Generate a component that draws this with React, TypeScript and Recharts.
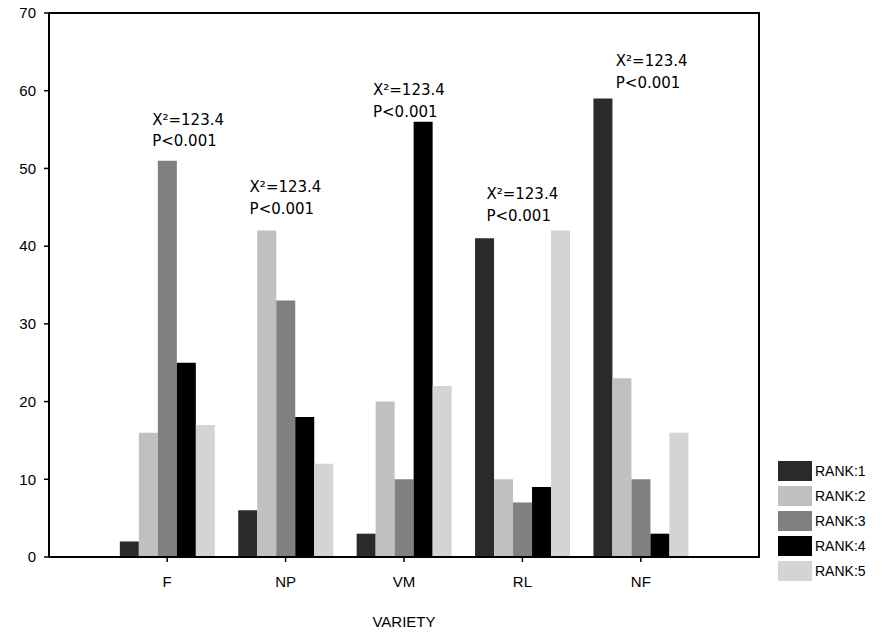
import {
  Bar,
  BarChart,
  CartesianGrid,
  ReferenceDot,
  XAxis,
  YAxis,
} from "recharts";

// Grouped bars: share of each rank per variety, with a chi-square note over each group.

const varieties = ["F", "NP", "VM", "RL", "NF"];
const rank1 = [2, 6, 3, 41, 59];
const rank2 = [16, 42, 20, 10, 23];
const rank3 = [51, 33, 10, 7, 10];
const rank4 = [25, 18, 56, 9, 3];
const rank5 = [17, 12, 22, 42, 16];
const rankNames = ["RANK:1", "RANK:2", "RANK:3", "RANK:4", "RANK:5"];
const yTicks = [0, 10, 20, 30, 40, 50, 60, 70];

// where each group's note sits (data units) and how far left of the group centre it starts
const noteLevel = [56.3, 47.6, 60.1, 46.7, 63.8];
const noteShift = [-15, -36, -31, -36, -25];

const COLORS = ["#2a2a2a", "#c0c0c0", "#808080", "#000000", "#d4d4d4"];
const series = [rank1, rank2, rank3, rank4, rank5];

const data = varieties.map((v, i) => {
  const row: Record<string, string | number> = { variety: v };
  series.forEach((s, k) => {
    row[`r${k + 1}`] = s[i];
  });
  return row;
});

const AXIS_FONT = "Arial, 'Liberation Sans', sans-serif";
const NOTE_FONT = "'DejaVu Sans', sans-serif";
const axisStroke = { stroke: "#000", strokeWidth: 2 };
const X_PAD = 59; // empty half-slot either side of the groups

// chart geometry (plot box = margins + axis sizes)
const W = 887;
const H = 636;
const M = { top: 13, right: 128, bottom: 0, left: 0 };
const Y_AXIS_W = 49;
const X_AXIS_H = 79;

type GridArgs = { offset?: { top?: number; left?: number; width?: number } };

// grid reduced to one line on the top edge and one on the right edge of the plot
const topEdge = (args: GridArgs) => [args?.offset?.top ?? M.top];
const rightEdge = (args: GridArgs) => {
  const o = args?.offset;
  return [o && o.left != null && o.width != null ? o.left + o.width : W - M.right];
};

function Note({ cx, cy, shift }: { cx?: number; cy?: number; shift: number }) {
  if (cx == null || cy == null) return null;
  const x = cx + shift;
  return (
    <text x={x} y={cy} fontFamily={NOTE_FONT} fontSize={15} fill="#000">
      <tspan x={x} dy="0.35em">X²=123.4</tspan>
      <tspan x={x} dy="1.45em">P&lt;0.001</tspan>
    </text>
  );
}

function Legend() {
  return (
    <div style={{ position: "absolute", left: 778, top: 458 }}>
      {rankNames.map((name, i) => (
        <div key={name} style={{ display: "flex", alignItems: "center", height: 25 }}>
          <div style={{ width: 34, height: 20, background: COLORS[i], marginRight: 3 }} />
          <span style={{ fontFamily: AXIS_FONT, fontSize: 14, color: "#000" }}>{name}</span>
        </div>
      ))}
    </div>
  );
}

// fallback overlay for the same two edges (left/bottom are the axes)
function Frame() {
  const left = M.left + Y_AXIS_W;
  const top = M.top - 1;
  const width = W - M.right - left + 1;
  const height = H - M.bottom - X_AXIS_H - M.top + 2;
  return (
    <div
      style={{
        position: "absolute",
        left,
        top,
        width,
        height,
        boxSizing: "border-box",
        borderTop: "2px solid #000",
        borderRight: "2px solid #000",
        pointerEvents: "none",
        zIndex: 2,
      }}
    />
  );
}

export default function App() {
  return (
    <div style={{ position: "absolute", left: 0, top: 0, width: W, height: H, background: "#fff" }}>
      <BarChart width={W} height={H} data={data} margin={M} barCategoryGap="10%" barGap={0}>
        <CartesianGrid
          stroke="#000"
          strokeWidth={2}
          horizontalCoordinatesGenerator={topEdge}
          verticalCoordinatesGenerator={rightEdge}
        />
        <XAxis
          dataKey="variety"
          padding={{ left: X_PAD, right: X_PAD }}
          height={X_AXIS_H}
          tickSize={5}
          tickMargin={14}
          axisLine={axisStroke}
          tickLine={{ stroke: "#000", strokeWidth: 1.5 }}
          tick={{ fontFamily: AXIS_FONT, fontSize: 15, fill: "#000" }}
          label={{
            value: "VARIETY",
            position: "insideBottom",
            offset: 9,
            fontFamily: AXIS_FONT,
            fontSize: 15,
            fill: "#000",
          }}
        />
        <YAxis
          width={Y_AXIS_W}
          domain={[0, 70]}
          ticks={yTicks}
          interval={0}
          tickSize={5}
          tickMargin={8}
          axisLine={axisStroke}
          tickLine={{ stroke: "#000", strokeWidth: 1.5 }}
          tick={{ fontFamily: AXIS_FONT, fontSize: 15, fill: "#000" }}
        />
        {series.map((_, k) => (
          <Bar key={k} dataKey={`r${k + 1}`} fill={COLORS[k]} isAnimationActive={false} />
        ))}
        {varieties.map((v, i) => (
          <ReferenceDot
            key={v}
            x={v}
            y={noteLevel[i]}
            r={0}
            ifOverflow="visible"
            shape={(p: { cx?: number; cy?: number }) => <Note cx={p.cx} cy={p.cy} shift={noteShift[i]} />}
          />
        ))}
      </BarChart>
      <Frame />
      <Legend />
    </div>
  );
}
